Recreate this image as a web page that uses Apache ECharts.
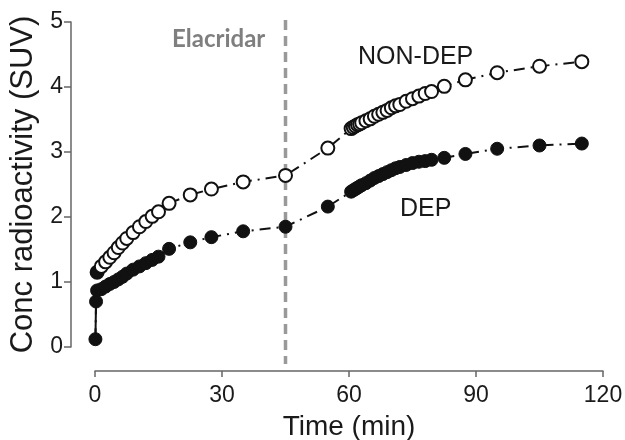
<!DOCTYPE html>
<html>
<head>
<meta charset="utf-8">
<script src="https://cdn.jsdelivr.net/npm/echarts@6/dist/echarts.min.js"></script>
<style>html,body{margin:0;padding:0;background:#fff}#c{width:625px;height:440px}</style>
</head>
<body>
<div id="c"></div>
<script>
// Frame mid-times (min)
var times = [0.1, 0.25, 0.5, 1.5, 2.5, 3.5, 4.5, 5.5, 6.5, 7.5, 9, 10.5, 12, 13.5, 15, 17.5, 22.5, 27.5, 35, 45, 55,
  60.5, 61, 61.5, 62, 62.5, 63, 64, 65, 66, 67, 68, 69, 70, 71, 72, 73.5, 75, 76.5, 78, 79.5, 82.5, 87.5, 95, 105, 115];
// DEP (filled circles)
var depValues = [0.12, 0.70, 0.87, 0.89, 0.93, 0.97, 1.00, 1.04, 1.08, 1.13, 1.19, 1.24, 1.29, 1.34, 1.39, 1.51, 1.61, 1.69, 1.78, 1.85, 2.16,
  2.39, 2.41, 2.43, 2.45, 2.47, 2.49, 2.52, 2.56, 2.60, 2.63, 2.66, 2.69, 2.72, 2.75, 2.77, 2.80, 2.83, 2.85, 2.86, 2.88, 2.91, 2.97, 3.05, 3.10, 3.13];
// NON-DEP (open circles); first frames start at 0.5 min
var nonDepTimes = times.slice(2);
var nonDepValues = [1.15, 1.24, 1.31, 1.38, 1.45, 1.53, 1.60, 1.67, 1.76, 1.85, 1.93, 2.01, 2.08, 2.21, 2.34, 2.43, 2.54, 2.64, 3.06,
  3.36, 3.38, 3.40, 3.42, 3.43, 3.45, 3.48, 3.51, 3.55, 3.58, 3.61, 3.64, 3.68, 3.71, 3.73, 3.78, 3.82, 3.86, 3.90, 3.93, 4.01, 4.11, 4.22, 4.32, 4.39];
var xTicks = [0, 30, 60, 90, 120];
var yTicks = [0, 1, 2, 3, 4, 5];
var elacridarTime = 45;
var elacridarSpan = [5.03, -0.26];
var seriesLabels = ['NON-DEP', 'DEP'];

var chart = echarts.init(document.getElementById('c'));
var FONT = '"Liberation Sans", Arial, sans-serif';
var dashDot = [11, 6, 2, 6];

var depData = times.map(function (t, i) { return [t, depValues[i]]; });
var nonDepData = nonDepTimes.map(function (t, i) {
  var d = { value: [t, nonDepValues[i]] };
  if (i === 0) d.itemStyle = { color: '#111', borderColor: '#111' };
  return d;
});
var elacridarData = elacridarSpan.map(function (v) { return [elacridarTime, v]; });

chart.setOption({
  animation: false,
  backgroundColor: '#fff',
  grid: { left: 95, right: 22, top: 22, bottom: 93, containLabel: false, outerBoundsMode: 'none' },
  xAxis: {
    type: 'value', min: xTicks[0], max: xTicks[xTicks.length - 1], interval: 30,
    offset: 24,
    name: 'Time (min)', nameLocation: 'middle', nameGap: 42,
    nameTextStyle: { fontFamily: FONT, fontSize: 28, color: '#1a1a1a' },
    axisLine: { onZero: false, lineStyle: { color: '#666', width: 1.5 } },
    axisTick: { length: 6, lineStyle: { color: '#666', width: 1.5 } },
    axisLabel: { fontFamily: FONT, fontSize: 23, color: '#1a1a1a', margin: 13 },
    splitLine: { show: false }
  },
  yAxis: {
    type: 'value', min: yTicks[0], max: yTicks[yTicks.length - 1], interval: 1,
    offset: 24,
    name: 'Conc radioactivity (SUV)', nameLocation: 'middle', nameGap: 28,
    nameTextStyle: { fontFamily: FONT, fontSize: 31, color: '#1a1a1a' },
    axisLine: { show: true, onZero: false, lineStyle: { color: '#666', width: 1.5 } },
    axisTick: { show: true, length: 7, lineStyle: { color: '#666', width: 1.5 } },
    axisLabel: { fontFamily: FONT, fontSize: 23, color: '#1a1a1a', margin: 8 },
    splitLine: { show: false }
  },
  series: [
    {
      name: 'Elacridar', type: 'line', data: elacridarData, symbol: 'none', clip: false, silent: true,
      lineStyle: { color: '#999', width: 3.5, type: [10, 6] }, z: 0
    },
    {
      name: 'DEP start', type: 'line', data: depData.slice(0, 2), symbol: 'none',
      lineStyle: { color: '#111', width: 2, type: 'solid' }, z: 1
    },
    {
      name: seriesLabels[1], type: 'line', data: depData, symbol: 'circle', symbolSize: 13,
      itemStyle: { color: '#111', borderColor: '#111', borderWidth: 1 },
      lineStyle: { color: '#111', width: 2, type: dashDot }, z: 2
    },
    {
      name: seriesLabels[0], type: 'line', data: nonDepData, symbol: 'circle', symbolSize: 13,
      itemStyle: { color: '#fff', borderColor: '#111', borderWidth: 2 },
      lineStyle: { color: '#111', width: 2, type: dashDot }, z: 3
    }
  ],
  graphic: [
    { type: 'text', left: 172, top: 27, z: 5,
      style: { text: 'Elacridar', fontFamily: 'Lato, "Open Sans", sans-serif', fontWeight: 'bold', fontSize: 24, fill: '#7f7f7f' } },
    { type: 'text', left: 358, top: 45, z: 5,
      style: { text: seriesLabels[0], fontFamily: FONT, fontSize: 25, fill: '#1a1a1a' } },
    { type: 'text', left: 400, top: 197, z: 5,
      style: { text: seriesLabels[1], fontFamily: FONT, fontSize: 25, fill: '#1a1a1a' } }
  ]
});
</script>
</body>
</html>
